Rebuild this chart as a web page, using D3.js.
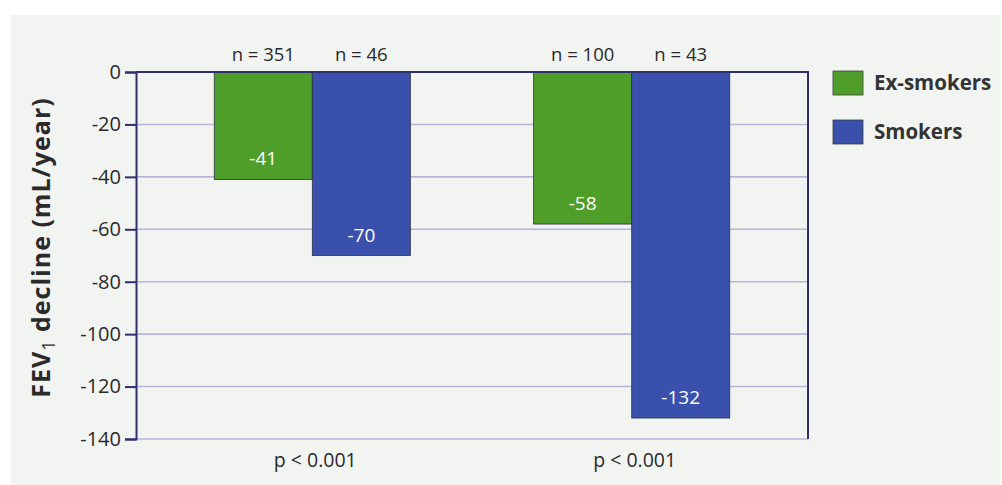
<!DOCTYPE html>
<html>
<head>
<meta charset="utf-8">
<script src="https://cdn.jsdelivr.net/npm/d3@7"></script>
<style>
  html, body { margin: 0; padding: 0; background: #ffffff; }
  svg { display: block; }
  text { font-family: "Open Sans", "Noto Sans", sans-serif; }
</style>
</head>
<body>
<svg id="chart" width="1002" height="485"></svg>
<script>
// Annual FEV1 decline by smoking status, two cohorts
const groups = ["A", "B"];
const series = ["Ex-smokers", "Smokers"];
const exSmokers = [-41, -58];
const smokers = [-70, -132];
const sampleSizes = [["n = 351", "n = 46"], ["n = 100", "n = 43"]];
const pValues = ["p < 0.001", "p < 0.001"];
const yTicks = [0, -20, -40, -60, -80, -100, -120, -140];
const colors = ["#4f9e29", "#3a50ad"];

const svg = d3.select("#chart");

// paper panel
svg.append("rect")
  .attr("x", 11).attr("y", 15).attr("width", 989).attr("height", 470)
  .attr("fill", "#f2f4f1");

const plotLeft = 136, plotRight = 808, plotTop = 72, plotBottom = 439;

const y = d3.scaleLinear().domain([-140, 0]).range([plotBottom, plotTop]);
const x0 = d3.scaleBand().domain(groups).range([plotLeft, plotRight])
  .paddingInner(0.386).paddingOuter(0.245);
const x1 = d3.scaleBand().domain(series).range([0, x0.bandwidth()]);

// horizontal grid lines
svg.append("g").selectAll("line")
  .data(yTicks.filter(t => t !== 0))
  .join("line")
  .attr("x1", plotLeft).attr("x2", plotRight)
  .attr("y1", d => y(d)).attr("y2", d => y(d))
  .attr("stroke", "#b7b4de").attr("stroke-width", 1.6);

// bars
const rows = groups.map((g, i) => ({ g, i, vals: [exSmokers[i], smokers[i]] }));
const gBars = svg.append("g").selectAll("g")
  .data(rows).join("g")
  .attr("transform", d => `translate(${x0(d.g)},0)`);

gBars.selectAll("rect")
  .data(d => d.vals.map((v, j) => ({ s: series[j], v, j })))
  .join("rect")
  .attr("x", d => x1(d.s))
  .attr("y", y(0))
  .attr("width", x1.bandwidth())
  .attr("height", d => y(d.v) - y(0))
  .attr("fill", d => colors[d.j])
  .attr("stroke", "#2c3040").attr("stroke-width", 0.8);

// value labels inside bars
gBars.selectAll("text.val")
  .data(d => d.vals.map((v, j) => ({ s: series[j], v })))
  .join("text")
  .attr("class", "val")
  .attr("x", d => x1(d.s) + x1.bandwidth() / 2)
  .attr("y", d => y(d.v) - 14)
  .attr("text-anchor", "middle")
  .attr("fill", "#ffffff")
  .attr("font-size", 19)
  .text(d => d.v);

// sample sizes above bars
gBars.selectAll("text.n")
  .data(d => sampleSizes[d.i].map((t, j) => ({ s: series[j], t })))
  .join("text")
  .attr("class", "n")
  .attr("x", d => x1(d.s) + x1.bandwidth() / 2)
  .attr("y", 61)
  .attr("text-anchor", "middle")
  .attr("fill", "#2a2a2a")
  .attr("font-size", 18.5)
  .text(d => d.t);

// p-values below groups
svg.append("g").selectAll("text")
  .data(groups)
  .join("text")
  .attr("x", (d) => x0(d) + x0.bandwidth() / 2 + 3)
  .attr("y", 467)
  .attr("text-anchor", "middle")
  .attr("fill", "#2a2a2a")
  .attr("font-size", 19.5)
  .text((d, i) => pValues[i]);

// y axis
const yAxis = d3.axisLeft(y).tickValues(yTicks).tickSize(11).tickPadding(4)
  .tickFormat(d => d);
const ga = svg.append("g").attr("transform", `translate(${plotLeft},0)`).call(yAxis);
ga.select(".domain").attr("stroke", "#2f2f6e").attr("stroke-width", 2);
ga.selectAll(".tick line").attr("stroke", "#2f2f6e").attr("stroke-width", 2);
ga.selectAll(".tick text")
  .attr("font-family", "'Open Sans', 'Noto Sans', sans-serif")
  .attr("font-size", 20).attr("fill", "#2a2a2a");

// frame: zero line and right edge
svg.append("line")
  .attr("x1", plotLeft).attr("x2", plotRight + 1)
  .attr("y1", y(0)).attr("y2", y(0))
  .attr("stroke", "#2f2f6e").attr("stroke-width", 2);
svg.append("line")
  .attr("x1", plotRight).attr("x2", plotRight)
  .attr("y1", y(0)).attr("y2", y(-140))
  .attr("stroke", "#2f2f6e").attr("stroke-width", 2);

// y axis title
const yTitle = svg.append("text")
  .attr("transform", `translate(50,${(plotTop + plotBottom) / 2 - 8}) rotate(-90)`)
  .attr("text-anchor", "middle")
  .attr("font-size", 25).attr("font-weight", "bold").attr("fill", "#2a2a2a")
  .attr("letter-spacing", 1);
yTitle.append("tspan").text("FEV");
yTitle.append("tspan").attr("font-size", 18).attr("font-weight", "normal").attr("dy", 5).text("1");
yTitle.append("tspan").attr("dy", -5).text(" decline (mL/year)");

// legend
const legend = svg.append("g").selectAll("g")
  .data(series).join("g")
  .attr("transform", (d, i) => `translate(833,${71 + i * 49})`);
legend.append("rect")
  .attr("width", 30).attr("height", 24)
  .attr("fill", (d, i) => colors[i])
  .attr("stroke", "#3a3f3a").attr("stroke-width", 0.8);
legend.append("text")
  .attr("x", 41).attr("y", 19)
  .attr("font-size", 20.5).attr("font-weight", "bold").attr("fill", "#333333")
  .text(d => d);
</script>
</body>
</html>
